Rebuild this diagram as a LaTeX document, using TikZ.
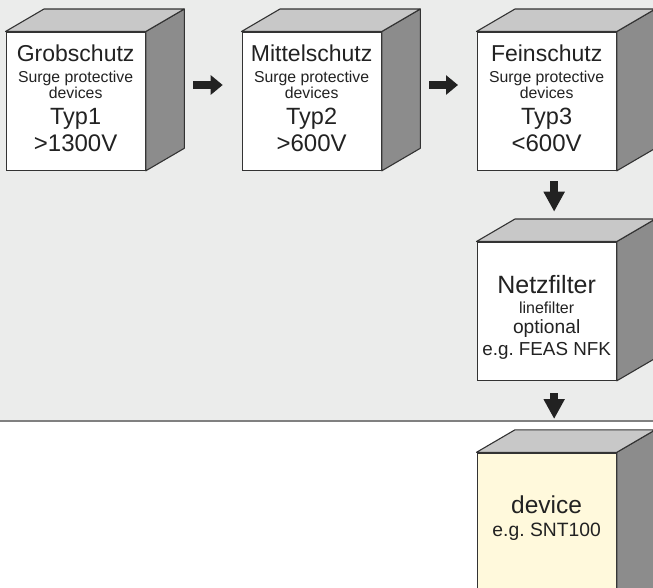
\documentclass[tikz,border=0pt]{standalone}
\usepackage{fontspec}
\setmainfont{Liberation Sans}
\usetikzlibrary{arrows.meta,calc}
\frenchspacing

\definecolor{bg}{HTML}{EBECEB}
\definecolor{topf}{HTML}{C8C8C8}
\definecolor{sidef}{HTML}{8C8C8C}
\definecolor{edge}{HTML}{333333}
\definecolor{ink}{HTML}{222222}
\definecolor{devfill}{HTML}{FFF9DC}
\definecolor{rulecol}{HTML}{808080}

\tikzset{
  front/.style={draw=edge, line width=1.3pt, fill=white, rectangle, inner sep=0pt,
                anchor=north west, minimum width=139pt},
  topface/.style={draw=edge, fill=topf, line width=1.1pt, line join=round},
  sideface/.style={draw=edge, fill=sidef, line width=1.1pt, line join=round},
  lbl/.style={anchor=base, inner sep=0pt, text=ink},
  harrow/.style={draw=ink, line width=8.4pt, -{Triangle[length=12pt,width=19pt]}},
  varrow/.style={draw=ink, line width=8.4pt, -{Triangle[length=20pt,width=20pt]}},
}
\newcommand\fsz[1]{\fontsize{#1}{#1}\selectfont}

% top and right faces of a box whose front face is node #1
\newcommand\boxsides[1]{%
  \path[sideface] (#1.north east) -- ++(38.5,-22.5)
       -- ($(#1.south east)+(38.5,-22.5)$) -- (#1.south east) -- cycle;
  \path[topface] (#1.north west) -- ++(38.5,-22.5)
       -- ($(#1.north east)+(38.5,-22.5)$) -- (#1.north east) -- cycle;
}

% labels of a surge protection stage
\newcommand\spdlabels[4]{%
  \node[lbl, font=\fsz{23}] (#1t) at ($(#1.north)+(0,29.5)$) {#2};
  \node[lbl, font=\fsz{15.8}] (#1s) at ($(#1.north)+(0,51)$) {Surge protective};
  \node[lbl, font=\fsz{15.8}] (#1d) at ($(#1.north)+(0,67.2)$) {devices};
  \node[lbl, font=\fsz{23.5}] (#1y) at ($(#1.north)+(0,93)$) {#3};
  \node[lbl, font=\fsz{24}] (#1v) at ($(#1.north)+(0,120)$) {#4};
}

\begin{document}
\begin{tikzpicture}[x=1pt,y=-1pt]
\useasboundingbox (0,0) rectangle (653,587);
\clip (0,0) rectangle (653,587);

% shaded upper zone and its lower border
\fill[bg] (0,0) rectangle (653,420.7);
\draw[rulecol, line width=1.6pt] (0,420.7) -- (653,420.7);

% front faces
\node[front, minimum height=138pt] (c1) at (5.5,31.5) {};
\node[front, minimum height=138pt] (c2) at (241.5,31.5) {};
\node[front, minimum height=138pt] (c3) at (476.5,31.5) {};
\node[front, minimum height=138pt] (c4) at (476.5,241.5) {};
\node[front, fill=devfill, minimum height=160pt] (c5) at (476.5,452.3) {};

\boxsides{c1}
\boxsides{c2}
\boxsides{c3}
\boxsides{c4}
\boxsides{c5}

% labels
\spdlabels{c1}{Grobschutz}{Typ1}{>1300V}
\spdlabels{c2}{Mittelschutz}{Typ2}{>600V}
\spdlabels{c3}{Feinschutz}{Typ3}{<600V}

\node[lbl, font=\fsz{25}] (c4t) at ($(c4.north)+(0,51.8)$) {Netzfilter};
\node[lbl, font=\fsz{16}] (c4s) at ($(c4.north)+(0,71.8)$) {linefilter};
\node[lbl, font=\fsz{19.2}] (c4o) at ($(c4.north)+(0,91.8)$) {optional};
\node[lbl, font=\fsz{18.8}] (c4e) at ($(c4.north)+(0,113.5)$) {e.g. FEAS NFK};

\node[lbl, font=\fsz{24.5}] (c5t) at ($(c5.north)+(0,61)$) {device};
\node[lbl, font=\fsz{19.3}] (c5e) at ($(c5.north)+(0,84.4)$) {e.g. SNT100};

% flow arrows
\draw[harrow] ($(c1.north east)+(47.5,53.5)$) -- ($(c2.north west)+(-18.8,53.5)$);
\draw[harrow] ($(c2.north east)+(47.5,53.5)$) -- ($(c3.north west)+(-18.5,53.5)$);
\draw[varrow] ($(c3.south)+(7.5,10.5)$) -- ($(c4.north)+(7.5,-29.8)$);
\draw[varrow] ($(c4.south)+(7.5,12.2)$) -- ($(c5.north)+(7.5,-33.3)$);
\end{tikzpicture}
\end{document}
